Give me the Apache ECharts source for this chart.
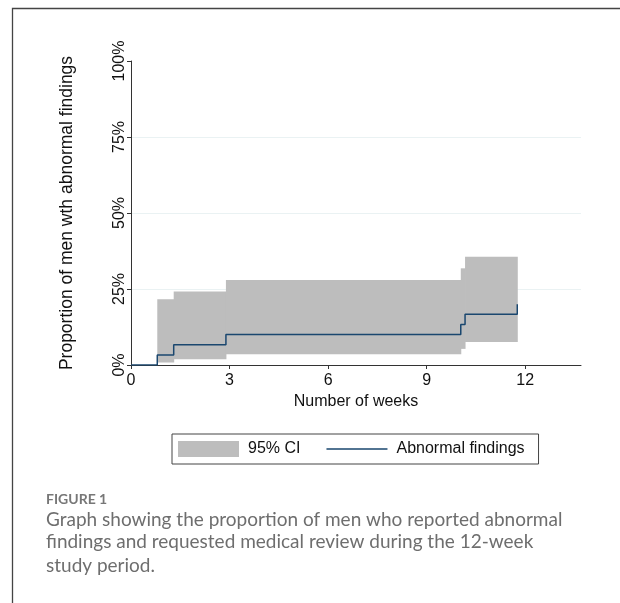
<!DOCTYPE html>
<html>
<head>
<meta charset="utf-8">
<script src="https://cdn.jsdelivr.net/npm/echarts@6/dist/echarts.min.js"></script>
<style>
html,body{margin:0;padding:0;background:#fff;}
#chart{width:620px;height:603px;}
</style>
</head>
<body>
<div id="chart"></div>
<script>
// Kaplan-Meier style step estimate (weeks, percent)
const weeks = [0, 0.80, 1.30, 2.89, 10.04, 10.17, 11.76];
const proportion = [0, 3.33, 6.67, 10, 13.33, 16.67, 20];
// 95% CI bands (interval start, end, lower, upper), percent
const ciStart = [0.80, 1.30, 2.89, 10.04, 10.17];
const ciEnd   = [1.30, 2.89, 10.04, 10.17, 11.76];
const ciLower = [0.8, 1.9, 3.5, 5.3, 7.6];
const ciUpper = [21.6, 24.2, 28.0, 31.8, 35.6];
// tick labels
const xTicks = [0, 3, 6, 9, 12];
const yTicks = [0, 25, 50, 75, 100];

const lineData = weeks.map((w, i) => [w, proportion[i]]);
const ciData = ciStart.map((s, i) => [s, ciEnd[i], ciLower[i], ciUpper[i]]);

const FONT = '"Liberation Sans", Arial, Helvetica, sans-serif';
const CAP = 'Lato, "Open Sans", sans-serif';
const chart = echarts.init(document.getElementById('chart'), null, {renderer: 'canvas'});

chart.setOption({
  animation: false,
  grid: {left: 131, top: 61, width: 450, height: 304},
  legend: {
    left: 172, top: 434,
    padding: [7, 14, 7, 6],
    borderColor: '#444', borderWidth: 1,
    itemWidth: 61, itemHeight: 16, itemGap: 26,
    selectedMode: false,
    textStyle: {fontFamily: FONT, fontSize: 16, color: '#111', padding: [0, 0, 0, 4]},
    data: [
      {name: '95% CI', icon: 'rect'},
      {name: 'Abnormal findings',
       icon: 'path://M0,0L0.01,0L0,0.01Z M0,7.3H61V8.7H0Z M61,16L60.99,16L61,15.99Z'}
    ]
  },
  xAxis: {
    type: 'value', min: 0, max: 13.7, interval: 3,
    name: 'Number of weeks', nameLocation: 'middle', nameGap: 26,
    nameTextStyle: {fontFamily: FONT, fontSize: 16, color: '#111'},
    axisLine: {show: true, onZero: false, lineStyle: {color: '#333', width: 1}},
    axisTick: {show: true, length: 4, customValues: xTicks, lineStyle: {color: '#333'}},
    axisLabel: {customValues: xTicks, margin: 8, fontFamily: FONT, fontSize: 16, color: '#111'},
    splitLine: {show: false}
  },
  yAxis: {
    type: 'value', min: 0, max: 100, interval: 25,
    name: 'Proportion of men wth abnormal findings', nameLocation: 'middle', nameGap: 55, nameRotate: 90,
    nameTextStyle: {fontFamily: FONT, fontSize: 17.5, color: '#111'},
    axisLine: {show: true, lineStyle: {color: '#333', width: 1}},
    axisTick: {show: true, length: 4, customValues: yTicks, lineStyle: {color: '#333'}},
    axisLabel: {customValues: yTicks, rotate: 90, margin: 3, fontFamily: FONT, fontSize: 16, color: '#111',
      formatter: v => v + '%'},
    splitLine: {show: true, showMinLine: false, showMaxLine: false, lineStyle: {color: '#eaf2f3', width: 1}}
  },
  series: [
    {
      name: '95% CI', type: 'custom', z: 1,
      itemStyle: {color: '#bdbdbd'},
      encode: {x: [0, 1], y: [2, 3]},
      data: ciData,
      renderItem: function (params, api) {
        const p0 = api.coord([api.value(0), api.value(3)]);
        const p1 = api.coord([api.value(1), api.value(2)]);
        return {
          type: 'rect',
          shape: {x: p0[0], y: p0[1], width: p1[0] - p0[0] + 0.5, height: p1[1] - p0[1]},
          style: {fill: '#bdbdbd'}
        };
      }
    },
    {
      name: 'Abnormal findings', type: 'line', step: 'end', z: 3,
      symbol: 'none', showSymbol: false,
      lineStyle: {color: '#1a476f', width: 1.5},
      itemStyle: {color: '#1a476f'},
      data: lineData
    }
  ],
  graphic: [
    {type: 'polyline', silent: true, shape: {points: [[12.5, 603], [12.5, 8.5], [620, 8.5]]},
     style: {stroke: '#444', lineWidth: 1.3, fill: null}},
    {type: 'text', left: 46, top: 492, style: {text: 'FIGURE 1', font: 'bold 14px ' + CAP, fill: '#777'}},
    {type: 'text', left: 46, top: 510, style: {text: 'Graph showing the proportion of men who reported abnormal', font: '19px ' + CAP, fill: '#6e6e6e'}},
    {type: 'text', left: 46, top: 532, style: {text: 'findings and requested medical review during the 12-week', font: '19px ' + CAP, fill: '#6e6e6e'}},
    {type: 'text', left: 46, top: 556, style: {text: 'study period.', font: '19px ' + CAP, fill: '#6e6e6e'}}
  ]
});
</script>
</body>
</html>
